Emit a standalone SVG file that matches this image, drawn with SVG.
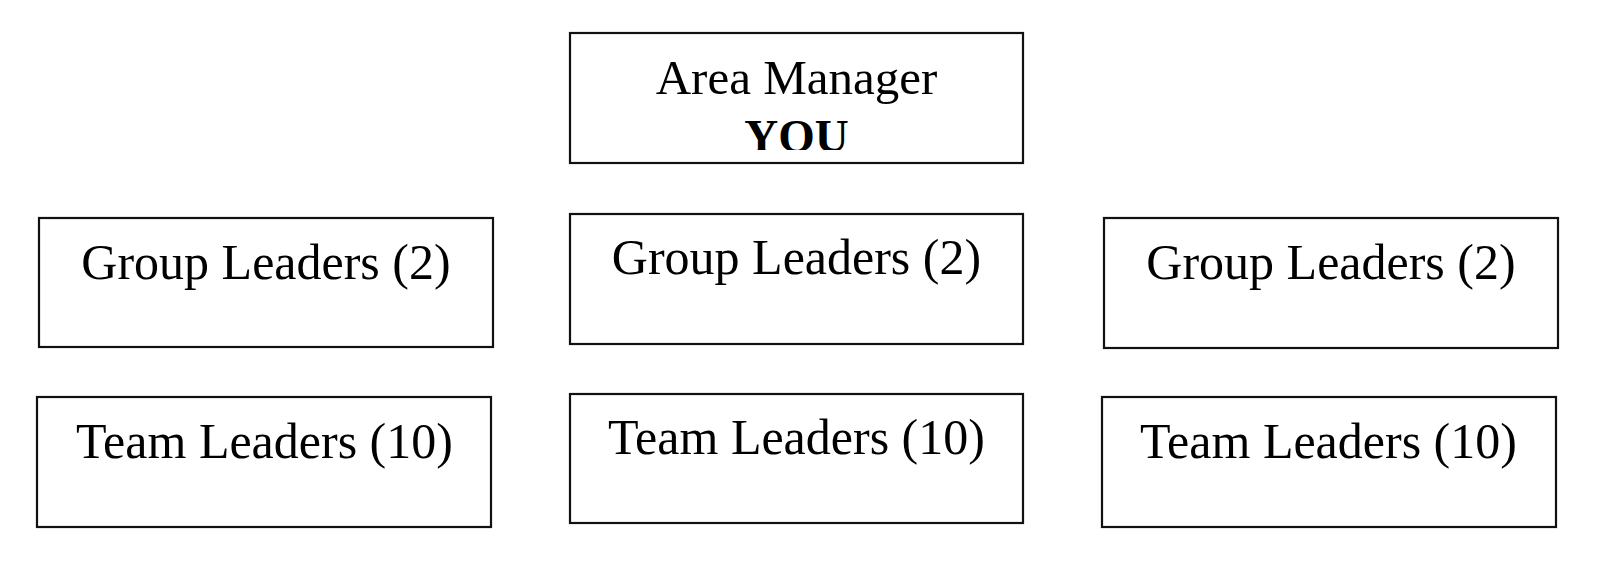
<svg xmlns="http://www.w3.org/2000/svg" width="1600" height="584" viewBox="0 0 1600 584">
<style>
.box{fill:#fff;stroke:#111;stroke-width:2.2}
.t{font-family:"Liberation Serif","Times New Roman",serif;font-size:50px;fill:#000;text-anchor:middle}
.b{font-weight:bold;font-size:47px}
</style>
<defs>
<clipPath id="clipTop"><rect x="570" y="33" width="453" height="117"/></clipPath>
</defs>
<rect width="1600" height="584" fill="#fff"/>
<g id="connectors"></g>
<g id="area-manager">
<rect class="box" x="570" y="33" width="453" height="130"/>
<text class="t" x="796.5" y="94" style="font-size:49px">Area Manager</text>
<text class="t b" x="796.5" y="152" clip-path="url(#clipTop)">YOU</text>
</g>
<g id="group-left">
<rect class="box" x="39" y="218" width="454" height="129"/>
<text class="t" x="266" y="279">Group Leaders (2)</text>
</g>
<g id="group-middle">
<rect class="box" x="570" y="214" width="453" height="130"/>
<text class="t" x="796.5" y="274">Group Leaders (2)</text>
</g>
<g id="group-right">
<rect class="box" x="1104" y="218" width="454" height="130"/>
<text class="t" x="1331" y="279">Group Leaders (2)</text>
</g>
<g id="team-left">
<rect class="box" x="37" y="397" width="454" height="130"/>
<text class="t" x="264.5" y="458">Team Leaders (10)</text>
</g>
<g id="team-middle">
<rect class="box" x="570" y="394" width="453" height="129"/>
<text class="t" x="796.5" y="454">Team Leaders (10)</text>
</g>
<g id="team-right">
<rect class="box" x="1102" y="397" width="454" height="130"/>
<text class="t" x="1328.5" y="458">Team Leaders (10)</text>
</g>
</svg>
